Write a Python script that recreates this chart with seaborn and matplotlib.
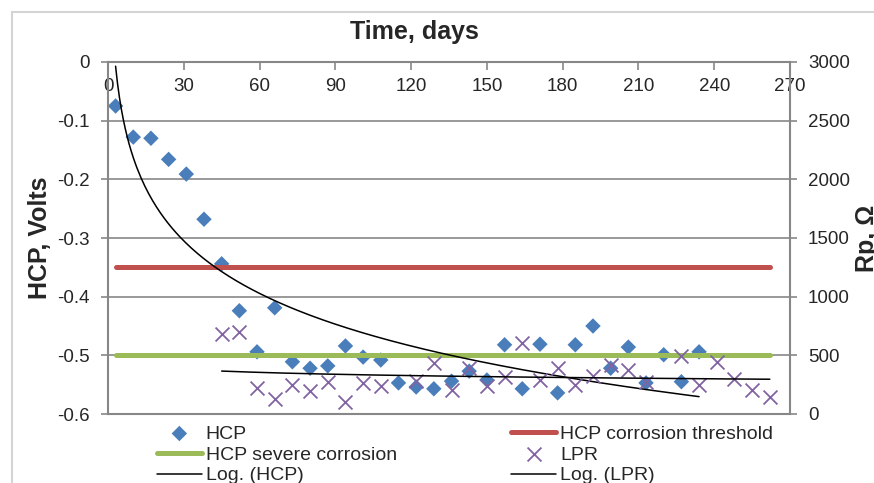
import numpy as np
import pandas as pd
import matplotlib
matplotlib.use("Agg")
import matplotlib.pyplot as plt
from matplotlib.patches import Rectangle
import seaborn as sns

# ---- data -------------------------------------------------------------
hcp_days = [3, 10, 17, 24, 31, 38, 45, 52, 59, 66, 73, 80, 87, 94, 101, 108,
            115, 122, 129, 136, 143, 150, 157, 164, 171, 178, 185, 192, 199,
            206, 213, 220, 227, 234]
hcp_volts = [-0.075, -0.128, -0.130, -0.166, -0.191, -0.268, -0.344, -0.424,
             -0.494, -0.419, -0.511, -0.522, -0.518, -0.484, -0.503, -0.508,
             -0.547, -0.554, -0.557, -0.544, -0.527, -0.542, -0.482, -0.557,
             -0.481, -0.564, -0.482, -0.450, -0.522, -0.486, -0.547, -0.499,
             -0.545, -0.494]

lpr_days = [45, 52, 59, 66, 73, 80, 87, 94, 101, 108, 122, 129, 136, 143,
            150, 157, 164, 171, 178, 185, 192, 199, 206, 213, 227, 234, 241,
            248, 255, 262]
lpr_ohms = [682, 699, 222, 128, 250, 192, 270, 100, 264, 237, 279, 435, 205,
            396, 237, 315, 605, 286, 392, 247, 324, 418, 375, 273, 494, 247,
            443, 298, 205, 145]

limit_days = [3, 262]
threshold_volts = [-0.35, -0.35]
severe_volts = [-0.5, -0.5]

x_ticks = [0, 30, 60, 90, 120, 150, 180, 210, 240, 270]
left_ticks = [-0.6, -0.5, -0.4, -0.3, -0.2, -0.1, 0]
left_tick_labels = ["-0.6", "-0.5", "-0.4", "-0.3", "-0.2", "-0.1", "0"]
right_ticks = [0, 500, 1000, 1500, 2000, 2500, 3000]

# ---- styling ----------------------------------------------------------
sns.set_style("white")
plt.rcParams["font.family"] = ["Liberation Sans", "DejaVu Sans"]

BLUE = "#4A7EBB"
RED = "#C0504D"
GREEN = "#9BBB59"
PURPLE = "#8064A2"
GRAY = "#878787"

W, H = 874, 483
fig = plt.figure(figsize=(W / 100, H / 100), dpi=100)
ax = fig.add_axes([108 / W, 1 - 414 / H, (790 - 108) / W, (414 - 62) / H])
ax2 = ax.twinx()

# logarithmic trend lines (least squares on ln(day))
def log_trend(days, vals):
    c, b = np.polyfit(np.log(days), vals, 1)
    xs = np.linspace(min(days), max(days), 300)
    return pd.DataFrame({"day": xs, "val": c * np.log(xs) + b})

hcp_df = pd.DataFrame({"day": hcp_days, "val": hcp_volts})
lpr_df = pd.DataFrame({"day": lpr_days, "val": lpr_ohms})
hcp_fit = log_trend(hcp_days, hcp_volts)
lpr_fit = log_trend(lpr_days, lpr_ohms)

sns.scatterplot(data=hcp_df, x="day", y="val", ax=ax, marker="D", s=62,
                color=BLUE, edgecolor="none", label="HCP", zorder=2)
sns.lineplot(x=limit_days, y=threshold_volts, ax=ax, color=RED, lw=3.6,
             solid_capstyle="round", label="HCP corrosion threshold", zorder=3)
sns.lineplot(x=limit_days, y=severe_volts, ax=ax, color=GREEN, lw=3.6,
             solid_capstyle="round", label="HCP severe corrosion", zorder=3)
sns.lineplot(data=hcp_fit, x="day", y="val", ax=ax, color="black", lw=1.1,
             label="Log. (HCP)", zorder=4)

sns.scatterplot(data=lpr_df, x="day", y="val", ax=ax2, marker="x", s=100,
                color=PURPLE, linewidth=1.3, label="LPR", zorder=3)
sns.lineplot(data=lpr_fit, x="day", y="val", ax=ax2, color="black", lw=1.1,
             label="Log. (LPR)", zorder=4)

# ---- axes -------------------------------------------------------------
ax.set_xlim(0, 270)
ax.set_ylim(-0.6, 0)
ax2.set_ylim(0, 3000)
ax.set_xlabel("")
ax.set_ylabel("")
ax2.set_ylabel("")

ax.set_xticks(x_ticks)
ax.set_xticklabels([str(t) for t in x_ticks])
ax.set_yticks(left_ticks)
ax.set_yticklabels(left_tick_labels)
ax2.set_yticks(right_ticks)
ax2.set_yticklabels([str(t) for t in right_ticks])

ax.xaxis.tick_top()
ax.tick_params(axis="x", which="both", top=True, bottom=False, labeltop=True,
               labelbottom=False, direction="in", length=6, width=1.2,
               color=GRAY, pad=-24, labelsize=13.5)
ax.tick_params(axis="y", left=True, right=False, direction="out", length=5,
               width=1.2, color=GRAY, pad=8, labelsize=13.5)
ax2.tick_params(axis="y", right=True, left=False, direction="out", length=5,
                width=1.2, color=GRAY, pad=8, labelsize=13.5)

ax.yaxis.grid(True, color=GRAY, lw=1.2)
ax.xaxis.grid(False)
ax2.grid(False)

for name, sp in ax.spines.items():
    sp.set_color(GRAY)
    sp.set_linewidth(1.5)
ax.spines["right"].set_visible(False)
for name, sp in ax2.spines.items():
    sp.set_visible(name == "right")
    sp.set_color(GRAY)
    sp.set_linewidth(1.5)

for a in (ax, ax2):
    if a.get_legend() is not None:
        a.get_legend().remove()

# ---- titles -----------------------------------------------------------
fig.text(414 / W, 1 - 32 / H, "Time, days", ha="center", va="center",
         fontsize=18, fontweight="bold")
fig.text(28 / W, 1 - 238 / H, "HCP, Volts", rotation=90, ha="left",
         va="center", fontsize=18, fontweight="bold")
fig.text(855 / W, 1 - 238 / H, "Rp, Ω", rotation=90, ha="left",
         va="center", fontsize=18, fontweight="bold")

# ---- legend -----------------------------------------------------------
h1, l1 = ax.get_legend_handles_labels()
h2, l2 = ax2.get_legend_handles_labels()
lookup = dict(zip(l1 + l2, h1 + h2))
order = ["HCP", "HCP severe corrosion", "Log. (HCP)",
         "HCP corrosion threshold", "LPR", "Log. (LPR)"]
fig.legend([lookup[k] for k in order], order, ncol=2, loc="upper left",
           bbox_to_anchor=(157 / W, 1 - 425 / H), frameon=False,
           borderpad=0, borderaxespad=0, handlelength=2.3,
           handletextpad=0.2, columnspacing=5.9, labelspacing=0.17,
           fontsize=14)

# outer chart border
fig.patches.append(Rectangle((12 / W, -0.1), 1.2, 1.1 - 12 / H,
                             transform=fig.transFigure, fill=False,
                             edgecolor="#D4D4D4", lw=1.5))

fig.savefig("out.png", dpi=100)
